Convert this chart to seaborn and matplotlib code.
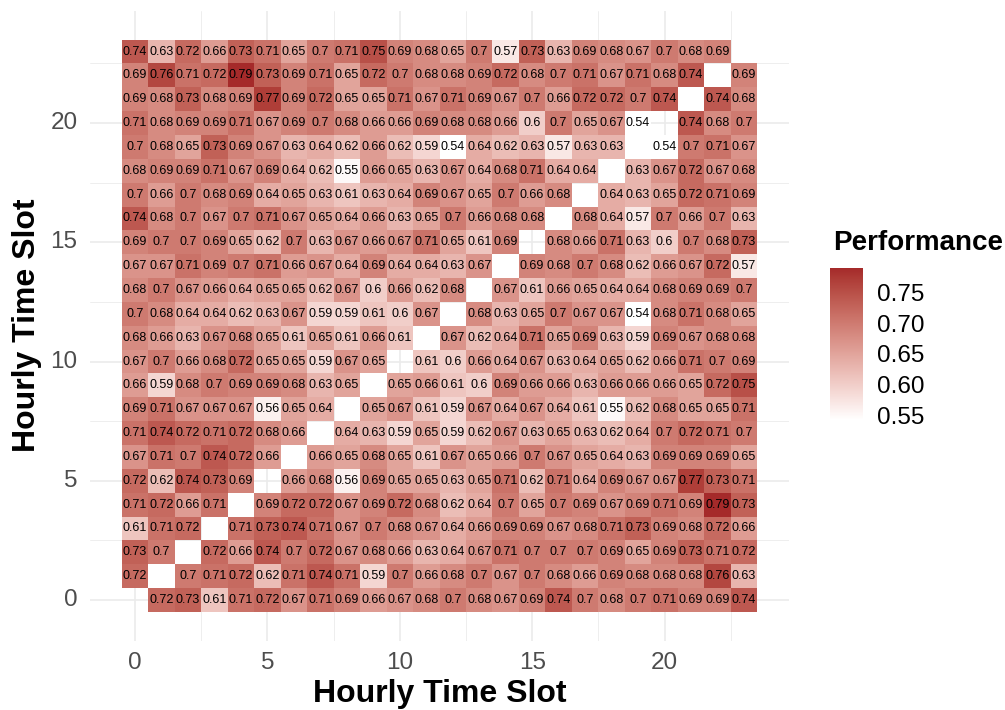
import numpy as np
import pandas as pd
import seaborn as sns
import matplotlib
matplotlib.use("Agg")
import matplotlib.pyplot as plt
from matplotlib.colors import ListedColormap, to_rgb

nan = np.nan

# performance between hourly slots, one list per row (y = hour, columns x = 0..23)
r00 = [nan, .72, .73, .61, .71, .72, .67, .71, .69, .66, .67, .68, .70, .68, .67, .69, .74, .70, .68, .70, .71, .69, .69, .74]
r01 = [.72, nan, .70, .71, .72, .62, .71, .74, .71, .59, .70, .66, .68, .70, .67, .70, .68, .66, .69, .68, .68, .68, .76, .63]
r02 = [.73, .70, nan, .72, .66, .74, .70, .72, .67, .68, .66, .63, .64, .67, .71, .70, .70, .70, .69, .65, .69, .73, .71, .72]
r03 = [.61, .71, .72, nan, .71, .73, .74, .71, .67, .70, .68, .67, .64, .66, .69, .69, .67, .68, .71, .73, .69, .68, .72, .66]
r04 = [.71, .72, .66, .71, nan, .69, .72, .72, .67, .69, .72, .68, .62, .64, .70, .65, .70, .69, .67, .69, .71, .69, .79, .73]
r05 = [.72, .62, .74, .73, .69, nan, .66, .68, .56, .69, .65, .65, .63, .65, .71, .62, .71, .64, .69, .67, .67, .77, .73, .71]
r06 = [.67, .71, .70, .74, .72, .66, nan, .66, .65, .68, .65, .61, .67, .65, .66, .70, .67, .65, .64, .63, .69, .69, .69, .65]
r07 = [.71, .74, .72, .71, .72, .68, .66, nan, .64, .63, .59, .65, .59, .62, .67, .63, .65, .63, .62, .64, .70, .72, .71, .70]
r08 = [.69, .71, .67, .67, .67, .56, .65, .64, nan, .65, .67, .61, .59, .67, .64, .67, .64, .61, .55, .62, .68, .65, .65, .71]
r09 = [.66, .59, .68, .70, .69, .69, .68, .63, .65, nan, .65, .66, .61, .60, .69, .66, .66, .63, .66, .66, .66, .65, .72, .75]
r10 = [.67, .70, .66, .68, .72, .65, .65, .59, .67, .65, nan, .61, .60, .66, .64, .67, .63, .64, .65, .62, .66, .71, .70, .69]
r11 = [.68, .66, .63, .67, .68, .65, .61, .65, .61, .66, .61, nan, .67, .62, .64, .71, .65, .69, .63, .59, .69, .67, .68, .68]
r12 = [.70, .68, .64, .64, .62, .63, .67, .59, .59, .61, .60, .67, nan, .68, .63, .65, .70, .67, .67, .54, .68, .71, .68, .65]
r13 = [.68, .70, .67, .66, .64, .65, .65, .62, .67, .60, .66, .62, .68, nan, .67, .61, .66, .65, .64, .64, .68, .69, .69, .70]
r14 = [.67, .67, .71, .69, .70, .71, .66, .67, .64, .69, .64, .64, .63, .67, nan, .69, .68, .70, .68, .62, .66, .67, .72, .57]
r15 = [.69, .70, .70, .69, .65, .62, .70, .63, .67, .66, .67, .71, .65, .61, .69, nan, .68, .66, .71, .63, .60, .70, .68, .73]
r16 = [.74, .68, .70, .67, .70, .71, .67, .65, .64, .66, .63, .65, .70, .66, .68, .68, nan, .68, .64, .57, .70, .66, .70, .63]
r17 = [.70, .66, .70, .68, .69, .64, .65, .63, .61, .63, .64, .69, .67, .65, .70, .66, .68, nan, .64, .63, .65, .72, .71, .69]
r18 = [.68, .69, .69, .71, .67, .69, .64, .62, .55, .66, .65, .63, .67, .64, .68, .71, .64, .64, nan, .63, .67, .72, .67, .68]
r19 = [.70, .68, .65, .73, .69, .67, .63, .64, .62, .66, .62, .59, .54, .64, .62, .63, .57, .63, .63, nan, .54, .70, .71, .67]
r20 = [.71, .68, .69, .69, .71, .67, .69, .70, .68, .66, .66, .69, .68, .68, .66, .60, .70, .65, .67, .54, nan, .74, .68, .70]
r21 = [.69, .68, .73, .68, .69, .77, .69, .72, .65, .65, .71, .67, .71, .69, .67, .70, .66, .72, .72, .70, .74, nan, .74, .68]
r22 = [.69, .76, .71, .72, .79, .73, .69, .71, .65, .72, .70, .68, .68, .69, .72, .68, .70, .71, .67, .71, .68, .74, nan, .69]
r23 = [.74, .63, .72, .66, .73, .71, .65, .70, .71, .75, .69, .68, .65, .70, .57, .73, .63, .69, .68, .67, .70, .68, .69, nan]

hours = list(range(24))
axis_ticks = [0, 5, 10, 15, 20]
legend_ticks = [0.55, 0.60, 0.65, 0.70, 0.75]

perf = pd.DataFrame([r00, r01, r02, r03, r04, r05, r06, r07, r08, r09, r10, r11,
                     r12, r13, r14, r15, r16, r17, r18, r19, r20, r21, r22, r23],
                    index=hours, columns=hours)
labels = perf.map(lambda v: "" if pd.isna(v) else f"{v:g}")


# white -> brown gradient interpolated in CIE Lab (like ggplot's scale_fill_gradient)
WHITE = np.array([0.95047, 1.0, 1.08883])
M = np.array([[0.4124, 0.3576, 0.1805], [0.2126, 0.7152, 0.0722], [0.0193, 0.1192, 0.9505]])


def to_lab(rgb):
    c = np.asarray(rgb, dtype=float)
    lin = np.where(c <= 0.04045, c / 12.92, ((c + 0.055) / 1.055) ** 2.4)
    xyz = M @ lin / WHITE
    d = 6 / 29
    f = np.where(xyz > d ** 3, np.cbrt(xyz), xyz / (3 * d * d) + 4 / 29)
    return np.array([116 * f[1] - 16, 500 * (f[0] - f[1]), 200 * (f[1] - f[2])])


def from_lab(lab):
    d = 6 / 29
    fy = (lab[:, 0] + 16) / 116
    f = np.stack([fy + lab[:, 1] / 500, fy, fy - lab[:, 2] / 200], axis=1)
    xyz = np.where(f > d, f ** 3, 3 * d * d * (f - 4 / 29)) * WHITE
    lin = xyz @ np.linalg.inv(M).T
    lin = np.clip(lin, 0, 1)
    c = np.where(lin <= 0.0031308, 12.92 * lin, 1.055 * lin ** (1 / 2.4) - 0.055)
    return np.clip(c, 0, 1)


lo, hi = to_lab(to_rgb("#FFFFFF")), to_lab(to_rgb("#A52A2A"))
t = np.linspace(0, 1, 256)[:, None]
cmap = ListedColormap(from_lab(lo + t * (hi - lo)))

sns.set_theme(style="white")
plt.rcParams["font.family"] = ["Liberation Sans", "DejaVu Sans"]
plt.rcParams["text.color"] = "black"

fig = plt.figure(figsize=(10.05, 7.10), dpi=100)
ax = fig.add_axes([90 / 1005, 1 - 640.5 / 710, 699 / 1005, 629.5 / 710])
cax = fig.add_axes([830 / 1005, 1 - 420 / 710, 33 / 1005, 152 / 710])

sns.heatmap(perf, ax=ax, cbar_ax=cax, cmap=cmap, vmin=0.542, vmax=0.79,
            annot=labels, fmt="", annot_kws={"size": 9, "color": "black"})

ax.set_xlim(-1.2, 25.2)
ax.set_ylim(-1.2, 25.2)
ax.set_xticks([k + 0.5 for k in axis_ticks])
ax.set_xticklabels([str(k) for k in axis_ticks], rotation=0)
ax.set_yticks([k + 0.5 for k in axis_ticks])
ax.set_yticklabels([str(k) for k in axis_ticks], rotation=0)
ax.set_xticks([k + 3 for k in axis_ticks], minor=True)
ax.set_yticks([k + 3 for k in axis_ticks], minor=True)
ax.set_axisbelow(True)
ax.grid(which="major", color="#EBEBEB", linewidth=1.2)
ax.grid(which="minor", color="#EBEBEB", linewidth=0.6)
ax.tick_params(which="both", length=0, labelsize=17.5, labelcolor="#4D4D4D")
ax.tick_params(axis="x", pad=8)
ax.tick_params(axis="y", pad=9)
ax.set_xlabel("")
ax.set_ylabel("")
for s in ax.spines.values():
    s.set_visible(False)

cbar = ax.collections[0].colorbar
cbar.set_ticks(legend_ticks)
cbar.set_ticklabels([f"{v:.2f}" for v in legend_ticks])
cbar.outline.set_visible(False)
cax.tick_params(length=0, pad=10, labelsize=17.5, labelcolor="black")

fig.text(833 / 1005, 1 - 243 / 710, "Performance", fontsize=20, fontweight="bold",
         color="black", ha="left", va="center")
fig.text(439.5 / 1005, 1 - 702 / 710, "Hourly Time Slot", fontsize=23,
         fontweight="bold", color="black", ha="center", va="baseline")
fig.text(27 / 1005, 1 - 325 / 710, "Hourly Time Slot", fontsize=23,
         fontweight="bold", color="black", ha="center", va="center", rotation=90)

fig.savefig("out.png", dpi=100)
